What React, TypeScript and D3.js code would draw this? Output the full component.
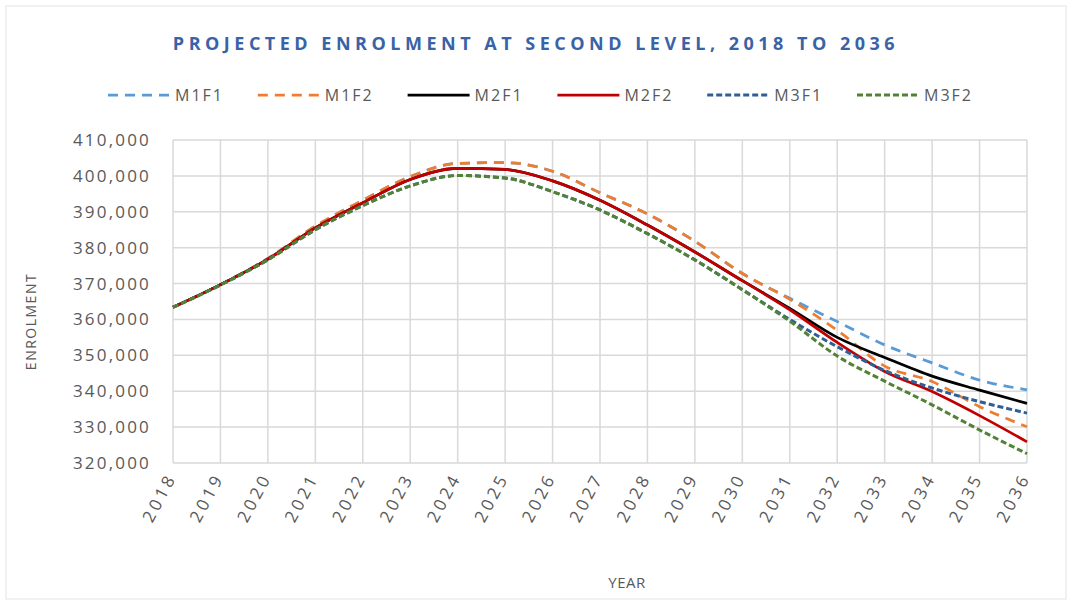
import * as d3 from 'd3'

const W = 1072, H = 603
const M = { top: 140, right: 45, bottom: 140, left: 173 }

const YEARS = [2018, 2019, 2020, 2021, 2022, 2023, 2024, 2025, 2026, 2027, 2028, 2029, 2030, 2031, 2032, 2033, 2034, 2035, 2036]
const Y_TICKS = [320000, 330000, 340000, 350000, 360000, 370000, 380000, 390000, 400000, 410000]

const M1F1 = [363400, 369700, 377000, 386000, 393200, 399800, 403500, 403700, 401300, 395300, 389400, 381800, 372800, 365900, 359400, 352900, 347900, 343100, 340400]
const M1F2 = [363400, 369700, 377000, 386000, 393200, 399800, 403500, 403700, 401300, 395300, 389400, 381800, 372800, 365600, 357000, 347000, 342700, 335700, 330100]
const M2F1 = [363400, 369700, 376800, 385500, 392500, 399000, 402100, 401800, 398600, 393200, 386300, 378800, 370800, 363100, 355000, 349400, 344200, 340300, 336600]
const M2F2 = [363400, 369700, 376800, 385500, 392500, 399000, 402100, 401800, 398600, 393200, 386300, 378800, 370800, 362700, 353600, 345500, 339900, 333200, 325900]
const M3F1 = [363400, 369600, 376600, 385000, 391700, 397200, 400100, 399400, 395600, 390500, 383900, 376600, 368300, 360000, 352400, 345800, 340900, 337100, 333900]
const M3F2 = [363400, 369600, 376600, 385000, 391700, 397200, 400100, 399400, 395600, 390500, 383900, 376600, 368300, 359500, 349800, 342800, 336200, 329200, 322600]

const SERIES = [
  { label: 'M1F1', values: M1F1, color: '#5b9bd5', dash: '10 7', width: 2.75 },
  { label: 'M1F2', values: M1F2, color: '#ed7d31', dash: '10 7', width: 2.75 },
  { label: 'M2F1', values: M2F1, color: '#000000', dash: '', width: 2.75 },
  { label: 'M2F2', values: M2F2, color: '#c00000', dash: '', width: 2.75 },
  { label: 'M3F1', values: M3F1, color: '#2e5f95', dash: '6 3', width: 3 },
  { label: 'M3F2', values: M3F2, color: '#548235', dash: '6 3', width: 3 },
]

const FONT = '"Open Sans", Calibri, sans-serif'
const GRID = '#d9d9d9'
const TXT = '#595959'

export default function App() {
  const iw = W - M.left - M.right
  const ih = H - M.top - M.bottom

  const x = d3.scaleLinear().domain([YEARS[0], YEARS[YEARS.length - 1]]).range([0, iw])
  const y = d3.scaleLinear().domain([320000, 410000]).range([ih, 0])
  const fmt = d3.format(',')

  const line = (vals: number[]) =>
    d3.line<number>()
      .x((_, i) => x(YEARS[i]))
      .y(v => y(v))
      .curve(d3.curveMonotoneX)(vals) ?? ''

  // legend spacing
  const legX = d3.scalePoint<string>().domain(SERIES.map(s => s.label)).range([108, 857])

  return (
    <div style={{ position: 'absolute', left: 0, top: 0 }}>
      <svg width={W} height={H} viewBox={`0 0 ${W} ${H}`} style={{ display: 'block', background: '#fff' }}>
        <rect x={6} y={6} width={W - 12} height={H - 10} fill="#fff" stroke="#e3e3e3" strokeWidth={1} />

        {/* ── title ─────────────────────────────── */}
        <text x={536} y={50} textAnchor="middle" fontFamily={FONT} fontWeight={700}
          fontSize={18} letterSpacing={4.5} fill="#3a62a6">
          PROJECTED ENROLMENT AT SECOND LEVEL, 2018 TO 2036
        </text>

        {/* ── legend ────────────────────────────── */}
        {SERIES.map(s => {
          const lx = legX(s.label)!
          return (
            <g key={s.label} transform={`translate(${lx},95)`}>
              <line x1={0} x2={62} y1={0} y2={0} stroke={s.color} strokeWidth={s.width}
                strokeDasharray={s.dash || undefined} />
              <text x={67} y={6} fontFamily={FONT} fontSize={16} letterSpacing={2} fill={TXT}>{s.label}</text>
            </g>
          )
        })}

        <g transform={`translate(${M.left},${M.top})`}>
          {/* ── grid ────────────────────────────── */}
          {Y_TICKS.map(t => (
            <line key={t} x1={0} x2={iw} y1={y(t)} y2={y(t)} stroke={GRID} strokeWidth={1.5} />
          ))}
          {YEARS.map(yr => (
            <line key={yr} x1={x(yr)} x2={x(yr)} y1={0} y2={ih} stroke={GRID} strokeWidth={1.5} />
          ))}

          {/* ── y axis labels ───────────────────── */}
          {Y_TICKS.map(t => (
            <text key={t} x={-22} y={y(t)} dy="0.35em" textAnchor="end" fontFamily={FONT}
              fontSize={17} letterSpacing={2.2} fill={TXT}>{fmt(t)}</text>
          ))}
          <text transform={`translate(${-137},${ih / 2 + 20}) rotate(-90)`} textAnchor="middle"
            fontFamily={FONT} fontSize={14} letterSpacing={1.5} fill={TXT}>ENROLMENT</text>

          {/* ── x axis labels ───────────────────── */}
          {YEARS.map(yr => (
            <text key={yr} transform={`translate(${x(yr) + 4},${ih + 14}) rotate(-62)`}
              textAnchor="end" fontFamily={FONT} fontSize={17} letterSpacing={3.5} fill={TXT}>{yr}</text>
          ))}
          <text x={iw / 2 + 27} y={ih + 125} textAnchor="middle" fontFamily={FONT}
            fontSize={15} letterSpacing={0.5} fill={TXT}>YEAR</text>

          {/* ── series ──────────────────────────── */}
          {SERIES.map(s => (
            <path key={s.label} d={line(s.values)} fill="none" stroke={s.color}
              strokeWidth={s.width} strokeDasharray={s.dash || undefined} />
          ))}
        </g>
      </svg>
    </div>
  )
}
